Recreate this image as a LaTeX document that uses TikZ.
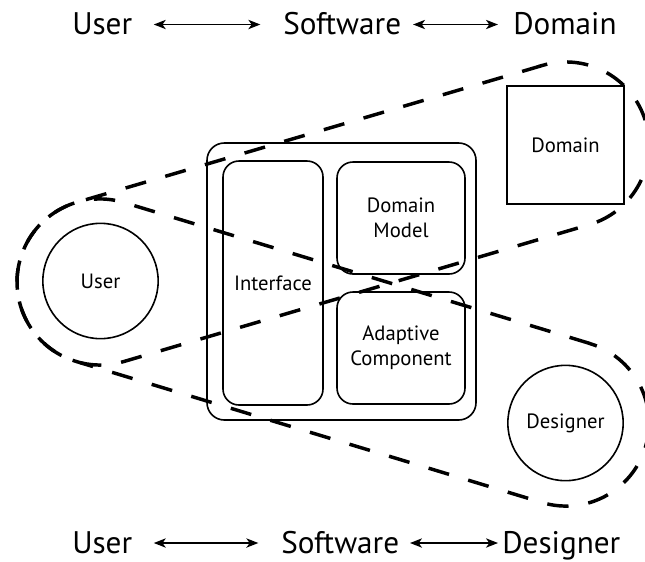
\documentclass[tikz,border=0pt]{standalone}
\usepackage{fontspec}
\setmainfont{PT Sans}
\usetikzlibrary{arrows.meta}

\begin{document}
\begin{tikzpicture}[x=0.75pt,y=0.75pt,yscale=-1,xscale=1,
  heading/.style={inner sep=0pt, anchor=west, text height=15pt, text depth=0pt, font=\fontsize{23.4}{28}\selectfont},
  link/.style={{Stealth[length=9pt,width=7pt,inset=2.5pt]}-{Stealth[length=9pt,width=7pt,inset=2.5pt]}, line width=1pt},
  part/.style={draw, line width=1.2pt, rounded corners=12pt, inner sep=0pt, align=center, font=\fontsize{15.5}{19}\selectfont},
  actor/.style={draw, circle, line width=1.2pt, minimum size=86.5pt, inner sep=0pt, font=\fontsize{15.5}{19}\selectfont},
  reach/.style={line width=2.6pt, dash pattern=on 16pt off 15pt}]
\useasboundingbox[fill=white] (0,0) rectangle (645,561);

% Text Node
\node[heading] (usertop) at (72,24.5) {User};
\node[heading] (softwaretop) at (283,24.5) {Software};
\node[heading] (domaintop) at (513,24.5) {Domain};
\draw[link, shorten <=16pt, shorten >=17pt] (usertop) -- (softwaretop);
\draw[link, shorten <=8.8pt, shorten >=11.3pt] (softwaretop) -- (domaintop);

% Text Node
\node[heading] (userbottom) at (72,543) {User};
\node[heading] (softwarebottom) at (281,543) {Software};
\node[heading] (designerbottom) at (502,543) {Designer};
\draw[link, shorten <=16pt, shorten >=17pt] (userbottom) -- (softwarebottom);
\draw[link, shorten <=8pt, shorten >=3pt] (softwarebottom) -- (designerbottom);

%Shape: Circle [User]
\node[actor] (user) at (100.5,281) {User};
%Shape: Square [Domain]
\node[draw, line width=1.2pt, minimum width=87.75pt, minimum height=88.5pt, inner sep=0pt, font=\fontsize{15.5}{19}\selectfont] (domain) at (565.5,145) {Domain};
%Shape: Circle [Designer]
\node[actor] (designer) at (565.5,423) {Designer};

%Shape: Rounded Rect [Software]
\node[part, rounded corners=13pt, minimum width=201.75pt, minimum height=207.75pt] (software) at (341.5,281.5) {};
\node[part, minimum width=75pt, minimum height=183pt] (interface) at (273,283) {Interface};
\node[part, minimum width=96pt, minimum height=84pt] (model) at (401,218) {Domain\\Model};
\node[part, minimum width=96pt, minimum height=84pt] (adaptive) at (401,348) {Adaptive\\Component};

%Shape: Dashed hull [User - Domain]
\draw[reach] (542.6,65.4) -- (76.6,202.4) arc[start angle=-106.4, end angle=-286.4, radius=83] -- (589.4,224.6) arc[start angle=73.6, end angle=-106.4, radius=83] -- cycle;
%Shape: Dashed hull [User - Designer]
\draw[reach] (590.0,343.5) -- (124.0,202.5) arc[start angle=-73.2, end angle=-253.2, radius=83] -- (542.0,502.5) arc[start angle=106.8, end angle=-73.2, radius=83] -- cycle;

\end{tikzpicture}
\end{document}
